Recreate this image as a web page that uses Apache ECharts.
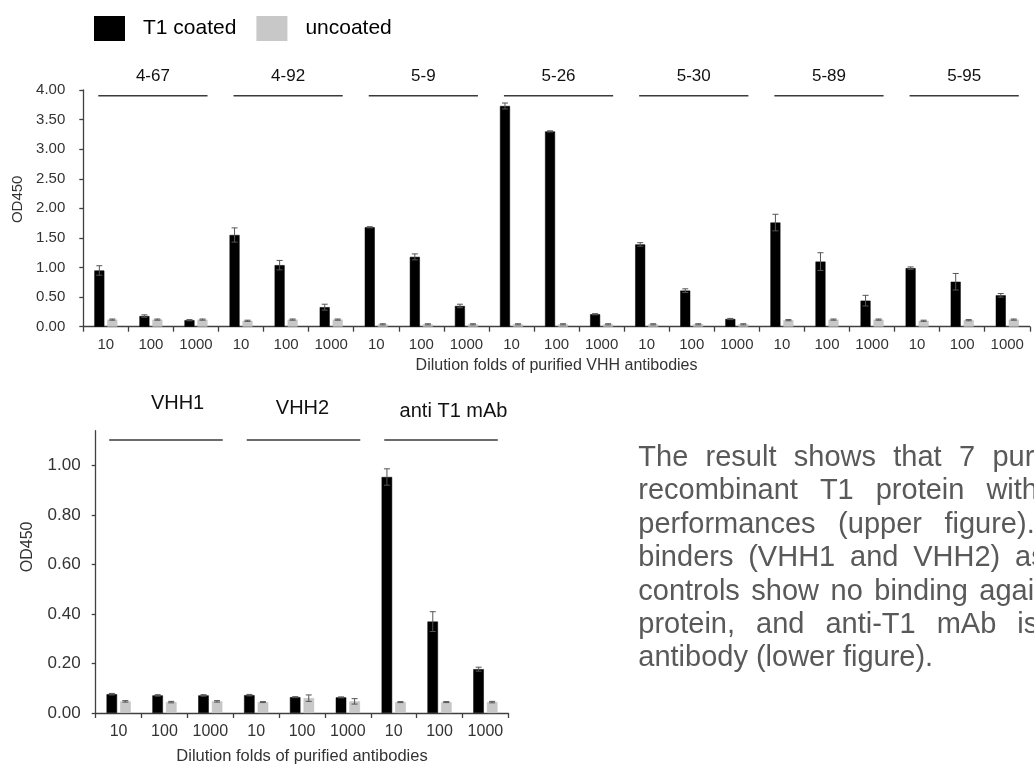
<!DOCTYPE html>
<html><head><meta charset="utf-8">
<script src="https://cdn.jsdelivr.net/npm/echarts@6/dist/echarts.min.js"></script>
<style>html,body{margin:0;padding:0;background:#fff;overflow:hidden}#c{width:1034px;height:766px}</style>
</head><body><div id="c"></div>
<script>
// ---------- data ----------
const dilutions = ['10', '100', '1000'];
const topGroups = ['4-67', '4-92', '5-9', '5-26', '5-30', '5-89', '5-95'];
const bottomGroups = ['VHH1', 'VHH2', 'anti T1 mAb'];
const seriesNames = ['T1 coated', 'uncoated'];

const topCoated      = [0.95, 0.18, 0.11, 1.55, 1.04, 0.33, 1.68, 1.18, 0.35, 3.73, 3.30, 0.21, 1.39, 0.61, 0.13, 1.76, 1.10, 0.44, 0.99, 0.76, 0.53];
const topCoatedErr   = [0.08, 0.02, 0.01, 0.12, 0.08, 0.05, 0.01, 0.05, 0.03, 0.05, 0.01, 0.01, 0.03, 0.03, 0.01, 0.14, 0.15, 0.09, 0.02, 0.14, 0.03];
const topUncoated    = [0.12, 0.12, 0.12, 0.10, 0.12, 0.12, 0.04, 0.04, 0.04, 0.04, 0.04, 0.04, 0.04, 0.04, 0.04, 0.11, 0.12, 0.12, 0.10, 0.11, 0.12];
const topUncoatedErr = [0.01, 0.01, 0.01, 0.01, 0.01, 0.01, 0.01, 0.01, 0.01, 0.01, 0.01, 0.01, 0.01, 0.01, 0.01, 0.01, 0.01, 0.01, 0.01, 0.01, 0.01];

const bottomCoated      = [0.076, 0.071, 0.071, 0.072, 0.064, 0.063, 0.953, 0.369, 0.177];
const bottomCoatedErr   = [0.003, 0.003, 0.003, 0.003, 0.002, 0.002, 0.033, 0.040, 0.008];
const bottomUncoated    = [0.047, 0.044, 0.047, 0.044, 0.060, 0.047, 0.044, 0.044, 0.044];
const bottomUncoatedErr = [0.003, 0.003, 0.003, 0.002, 0.013, 0.011, 0.002, 0.002, 0.003];

const topYTicks = [0, 0.5, 1, 1.5, 2, 2.5, 3, 3.5, 4];
const bottomYTicks = [0, 0.2, 0.4, 0.6, 0.8, 1.0];

const topTitle = 'Dilution folds of purified VHH antibodies';
const bottomTitle = 'Dilution folds of purified antibodies';
const yTitle = 'OD450';

const paragraphLines = [
  ['The', 'result', 'shows', 'that', '7', 'purified'],
  ['recombinant', 'T1', 'protein', 'with'],
  ['performances', '(upper', 'figure).'],
  ['binders', '(VHH1', 'and', 'VHH2)', 'as'],
  ['controls', 'show', 'no', 'binding', 'against'],
  ['protein,', 'and', 'anti-T1', 'mAb', 'is'],
  ['antibody', '(lower', 'figure).']
];

// ---------- layout / style ----------
const FONT = '"Liberation Sans", Arial, sans-serif';
const BLACK = '#000000', GRAY = '#c8c8c8', ERR = '#555555', AXIS = '#404040', TXT = '#333333';
const paraGaps = [17.3, 22, 22.5, 14.8, 11.5, 21, 8];

const topCategories = topGroups.flatMap(() => dilutions);
const bottomCategories = bottomGroups.flatMap(() => dilutions);

function errSeries(xi, yi, vals, errs, offset) {
  return {
    type: 'custom', xAxisIndex: xi, yAxisIndex: yi, z: 5, silent: true,
    data: vals.map((v, i) => [i, v, errs[i]]),
    encode: { x: 0, y: 1 },
    renderItem: (params, api) => {
      const i = api.value(0), v = api.value(1), e = api.value(2);
      const hi = api.coord([i, v + e]), lo = api.coord([i, v - e]);
      const x = hi[0] + offset;
      const st = { stroke: ERR, lineWidth: 1 };
      return { type: 'group', children: [
        { type: 'line', shape: { x1: x, y1: hi[1], x2: x, y2: lo[1] }, style: st },
        { type: 'line', shape: { x1: x - 3, y1: hi[1], x2: x + 3, y2: hi[1] }, style: st },
        { type: 'line', shape: { x1: x - 3, y1: lo[1], x2: x + 3, y2: lo[1] }, style: st }
      ]};
    }
  };
}

function groupSeries(xi, yi, names, cfg) {
  return {
    type: 'custom', xAxisIndex: xi, yAxisIndex: yi, z: 6, silent: true, clip: false,
    data: names.map((n, g) => [g * 3, g * 3 + 2, 0, g]),
    encode: { x: [0, 1], y: 2 },
    renderItem: (params, api) => {
      const cs = params.coordSys;
      const g = api.value(3);
      const bw = api.size([1, 0])[0];
      const a = api.coord([api.value(0), 0])[0] - bw / 2 + cfg.insetL;
      const b = api.coord([api.value(1), 0])[0] + bw / 2 - cfg.insetR;
      const y = cs.y + cfg.lineDy;
      return { type: 'group', children: [
        { type: 'line', shape: { x1: a, y1: y, x2: b, y2: y }, style: { stroke: '#3a3a3a', lineWidth: 1.6 } },
        { type: 'text', style: { text: names[g], x: (a + b) / 2 + cfg.labelDx[g], y: y + cfg.labelDy[g],
          align: 'center', verticalAlign: 'middle', fill: '#111', font: cfg.fontSize + 'px ' + FONT } }
      ]};
    }
  };
}

function barSeries(name, xi, yi, data, color, width) {
  return { name, type: 'bar', xAxisIndex: xi, yAxisIndex: yi, data, barWidth: width, barGap: '30%',
    itemStyle: { color, borderColor: color === BLACK ? '#000' : '#bdbdbd', borderWidth: 0.5 }, silent: true };
}

function catAxis(gi, cats, fontSize, margin, name, nameGap, nameSize) {
  return {
    type: 'category', gridIndex: gi, data: cats,
    axisLine: { lineStyle: { color: AXIS, width: 1.3 } },
    axisTick: { show: true, length: 5, lineStyle: { color: AXIS, width: 1.3 } },
    axisLabel: { color: TXT, fontSize, margin, fontFamily: FONT, interval: 0 },
    name, nameLocation: 'middle', nameGap,
    nameTextStyle: { color: TXT, fontSize: nameSize, fontFamily: FONT }
  };
}

function valAxis(gi, min, max, ticks, fontSize, margin, nameGap, nameSize, namePad) {
  return {
    type: 'value', gridIndex: gi, min, max, interval: ticks[1] - ticks[0],
    axisLine: { show: true, lineStyle: { color: AXIS, width: 1.3 } },
    axisTick: { show: true, length: 4, customValues: ticks, lineStyle: { color: AXIS, width: 1.3 } },
    axisLabel: { color: TXT, fontSize, margin, fontFamily: FONT, customValues: ticks,
      formatter: v => v.toFixed(2) },
    splitLine: { show: false },
    name: yTitle, nameLocation: 'middle', nameGap, nameRotate: 90,
    nameTextStyle: { color: TXT, fontSize: nameSize, fontFamily: FONT, padding: namePad }
  };
}

// paragraph words laid out with justified spacing
const measureCtx = document.createElement('canvas').getContext('2d');
measureCtx.font = '29px ' + FONT;
const paraElements = [];
paragraphLines.forEach((words, li) => {
  let x = 638.3;
  const y = 458 + li * 33.4;
  words.forEach(w => {
    paraElements.push({ type: 'text', x, y, silent: true,
      style: { text: w, fill: '#595959', font: '29px ' + FONT, verticalAlign: 'middle', align: 'left' } });
    x += measureCtx.measureText(w).width + paraGaps[li];
  });
});

const chart = echarts.init(document.getElementById('c'), null, { renderer: 'canvas' });
chart.setOption({
  animation: false,
  backgroundColor: '#ffffff',
  legend: {
    data: seriesNames, left: 89, top: 11, itemWidth: 31, itemHeight: 25, itemGap: 20,
    icon: 'rect', selectedMode: false,
    itemStyle: { borderWidth: 0 },
    textStyle: { color: '#000', fontSize: 21, fontFamily: FONT, padding: [10, 0, 0, 13] }
  },
  grid: [
    { left: 83.3, top: 90, width: 946.5, height: 236.7, containLabel: false },
    { left: 95.7, top: 430.7, width: 412.6, height: 284.3, containLabel: false }
  ],
  xAxis: [
    catAxis(0, topCategories, 15, 11, topTitle, 31, 16),
    catAxis(1, bottomCategories, 16, 11, bottomTitle, 35, 16.5)
  ],
  yAxis: [
    valAxis(0, 0, 4, topYTicks, 15, 18, 56, 15, [0, 0, 0, 18]),
    valAxis(1, 0, 1.14, bottomYTicks, 17, 15, 60, 16, [0, 0, 0, 50])
  ],
  series: [
    barSeries(seriesNames[0], 0, 0, topCoated, BLACK, 10),
    barSeries(seriesNames[1], 0, 0, topUncoated, GRAY, 10),
    errSeries(0, 0, topCoated, topCoatedErr, -6.5),
    errSeries(0, 0, topUncoated, topUncoatedErr, 6.5),
    groupSeries(0, 0, topGroups, { insetL: 15, insetR: 11, lineDy: 5.7, fontSize: 17,
      labelDx: [0, 0, 0, 0, 0, 0, 0], labelDy: [-19, -19, -19, -19, -19, -19, -19] }),
    barSeries(seriesNames[0], 1, 1, bottomCoated, BLACK, 10.5),
    barSeries(seriesNames[1], 1, 1, bottomUncoated, GRAY, 10.5),
    errSeries(1, 1, bottomCoated, bottomCoatedErr, -6.75),
    errSeries(1, 1, bottomUncoated, bottomUncoatedErr, 6.75),
    groupSeries(1, 1, bottomGroups, { insetL: 13.5, insetR: 10.5, lineDy: 9.3, fontSize: 20,
      labelDx: [11.6, -1, 12.5], labelDy: [-36.7, -31.7, -28.3] })
  ],
  graphic: paraElements
});
</script></body></html>
